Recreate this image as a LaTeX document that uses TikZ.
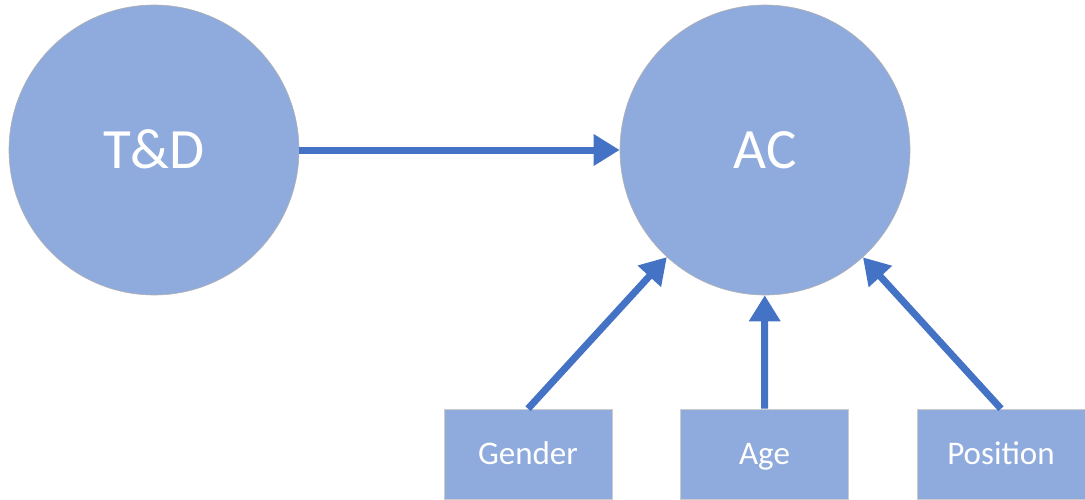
\documentclass[tikz,border=0pt]{standalone}
\usepackage{fontspec}
\setmainfont{Carlito}
\usetikzlibrary{arrows.meta}
\definecolor{nodefill}{HTML}{8FAADC}
\definecolor{arrowblue}{HTML}{4472C4}
\tikzset{
    bigcircle/.style={circle,fill=nodefill,draw=gray!60,line width=0.6pt,
        minimum size=290pt,inner sep=0pt,text=white,
        text height=36.7pt,text depth=0pt,font=\fontsize{57}{60}\selectfont},
    smallbox/.style={rectangle,fill=nodefill,draw=gray!40,line width=0.6pt,
        minimum width=168pt,minimum height=90pt,inner sep=0pt,text=white,
        text height=21.3pt,text depth=0pt,font=\fontsize{33}{36}\selectfont},
    link/.style={arrowblue,line width=7pt,-{Triangle[length=26pt,width=30pt]}}
}
\begin{document}
\begin{tikzpicture}[x=1pt,y=-1pt]
    \useasboundingbox (0,0) rectangle (1085,499);
    \node[bigcircle] (td) at (154,150) {T\&D};
    \node[bigcircle] (ac) at (765,150) {AC};
    \node[smallbox] (gender) at (528,454) {Gender};
    \node[smallbox] (age) at (764.5,454) {Age};
    \node[smallbox] (position) at (1001,454) {Position};
    \draw[link] (td) -- (ac);
    \draw[link] (gender.north) -- (ac);
    \draw[link] (age) -- (ac);
    \draw[link] (position.north) -- (ac);
\end{tikzpicture}
\end{document}
